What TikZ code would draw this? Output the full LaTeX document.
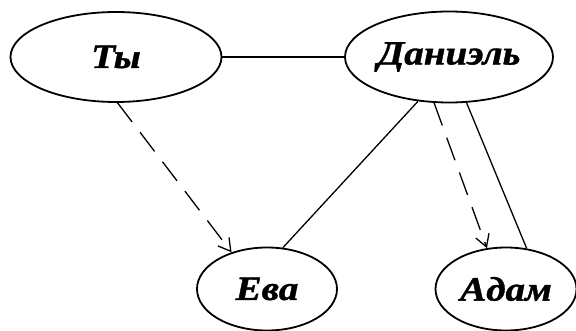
\documentclass[tikz,border=0pt]{standalone}
\usepackage{fontspec}
\setmainfont{Liberation Serif}
\newfontfamily\namefont[FakeStretch=1.15,FakeBold=1.2]{Liberation Serif}
\usetikzlibrary{shapes.geometric,arrows.meta}
\begin{document}
\begin{tikzpicture}[x=1pt,y=-1pt,
  person/.style={ellipse, draw, line width=1.8pt, inner sep=0pt,
    font=\namefont\fontsize{34}{38}\selectfont\bfseries\itshape},
  link/.style={line width=1.3pt},
  pointer/.style={line width=1.3pt, dash pattern=on 24pt off 13pt,
    -{Straight Barb[length=12pt,width=14pt,line width=1.3pt]}}]
\useasboundingbox (0,0) rectangle (576,331);

% people
\node[person, minimum width=211pt, minimum height=90pt] (ty)   at (116,57)  {Ты};
\node[person, minimum width=208pt, minimum height=91pt] (dan)  at (449,57)  {Даниэль};
\node[person, minimum width=140pt, minimum height=83pt] (eva)  at (267,289) {Ева};
\node[person, minimum width=141pt, minimum height=83pt] (adam) at (506,289) {Адам};

% relations
\draw[link] (ty.east) -- (dan.west);
\draw[pointer] (ty.272) -- (eva.134);
\draw[link] (dan.235) -- (eva.69);
\draw[pointer] (dan.252) -- (adam.115);
\draw[link] (dan.291) -- (adam.63);
\end{tikzpicture}
\end{document}
